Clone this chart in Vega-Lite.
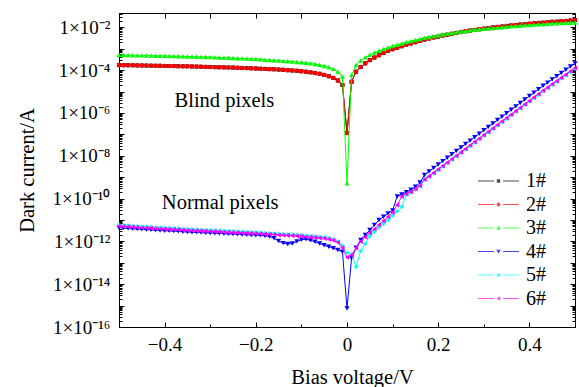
{
  "$schema": "https://vega.github.io/schema/vega-lite/v6.json",
  "width": 456,
  "height": 314,
  "autosize": "none",
  "padding": {"left": 119, "top": 13, "right": 4, "bottom": 60},
  "background": "white",
  "config": {
    "font": "Liberation Serif",
    "view": {"stroke": "black", "strokeWidth": 1},
    "axis": {"domainColor": "black", "domainWidth": 1, "tickColor": "black", "tickWidth": 1, "labelColor": "black", "titleColor": "black", "grid": false, "labelFont": "Liberation Serif", "titleFont": "Liberation Serif", "titleFontWeight": "normal", "labelFontSize": 19, "titleFontSize": 20.5},
    "legend": {"labelFont": "Liberation Serif", "labelFontSize": 20, "labelColor": "black", "symbolStrokeWidth": 0, "symbolSize": 16, "rowPadding": 3.5, "labelOffset": 17.5, "padding": 0}
  },
  "data": {"values": [
    {"x":-0.5,"1#":1.74e-4,"2#":1.74e-4,"3#":5.13e-4,"4#":4.37e-12,"5#":5.89e-12,"6#":5.25e-12},
    {"x":-0.49,"1#":1.72e-4,"2#":1.72e-4,"3#":5.08e-4,"4#":4.17e-12,"5#":5.62e-12,"6#":5.01e-12},
    {"x":-0.48,"1#":1.71e-4,"2#":1.71e-4,"3#":5.04e-4,"4#":4.07e-12,"5#":5.50e-12,"6#":4.90e-12},
    {"x":-0.47,"1#":1.69e-4,"2#":1.69e-4,"3#":4.99e-4,"4#":3.89e-12,"5#":5.25e-12,"6#":4.68e-12},
    {"x":-0.46,"1#":1.67e-4,"2#":1.67e-4,"3#":4.94e-4,"4#":3.80e-12,"5#":5.13e-12,"6#":4.57e-12},
    {"x":-0.45,"1#":1.66e-4,"2#":1.66e-4,"3#":4.90e-4,"4#":3.63e-12,"5#":4.90e-12,"6#":4.37e-12},
    {"x":-0.44,"1#":1.64e-4,"2#":1.64e-4,"3#":4.85e-4,"4#":3.55e-12,"5#":4.79e-12,"6#":4.27e-12},
    {"x":-0.43,"1#":1.63e-4,"2#":1.63e-4,"3#":4.81e-4,"4#":3.47e-12,"5#":4.68e-12,"6#":4.17e-12},
    {"x":-0.42,"1#":1.61e-4,"2#":1.61e-4,"3#":4.76e-4,"4#":3.31e-12,"5#":4.47e-12,"6#":3.98e-12},
    {"x":-0.41,"1#":1.60e-4,"2#":1.60e-4,"3#":4.72e-4,"4#":3.24e-12,"5#":4.37e-12,"6#":3.89e-12},
    {"x":-0.4,"1#":1.58e-4,"2#":1.58e-4,"3#":4.68e-4,"4#":3.16e-12,"5#":4.27e-12,"6#":3.80e-12},
    {"x":-0.39,"1#":1.57e-4,"2#":1.57e-4,"3#":4.61e-4,"4#":3.09e-12,"5#":4.17e-12,"6#":3.72e-12},
    {"x":-0.38,"1#":1.56e-4,"2#":1.56e-4,"3#":4.55e-4,"4#":3.02e-12,"5#":4.07e-12,"6#":3.63e-12},
    {"x":-0.37,"1#":1.54e-4,"2#":1.54e-4,"3#":4.49e-4,"4#":2.95e-12,"5#":3.98e-12,"6#":3.55e-12},
    {"x":-0.36,"1#":1.53e-4,"2#":1.53e-4,"3#":4.43e-4,"4#":2.82e-12,"5#":3.80e-12,"6#":3.39e-12},
    {"x":-0.35,"1#":1.51e-4,"2#":1.51e-4,"3#":4.37e-4,"4#":2.75e-12,"5#":3.72e-12,"6#":3.31e-12},
    {"x":-0.34,"1#":1.49e-4,"2#":1.49e-4,"3#":4.31e-4,"4#":2.69e-12,"5#":3.63e-12,"6#":3.24e-12},
    {"x":-0.33,"1#":1.47e-4,"2#":1.47e-4,"3#":4.25e-4,"4#":2.63e-12,"5#":3.55e-12,"6#":3.16e-12},
    {"x":-0.32,"1#":1.45e-4,"2#":1.45e-4,"3#":4.19e-4,"4#":2.57e-12,"5#":3.47e-12,"6#":3.09e-12},
    {"x":-0.31,"1#":1.43e-4,"2#":1.43e-4,"3#":4.13e-4,"4#":2.51e-12,"5#":3.39e-12,"6#":3.02e-12},
    {"x":-0.3,"1#":1.41e-4,"2#":1.41e-4,"3#":4.07e-4,"4#":2.45e-12,"5#":3.31e-12,"6#":2.95e-12},
    {"x":-0.29,"1#":1.39e-4,"2#":1.39e-4,"3#":4.00e-4,"4#":2.40e-12,"5#":3.24e-12,"6#":2.88e-12},
    {"x":-0.28,"1#":1.37e-4,"2#":1.37e-4,"3#":3.93e-4,"4#":2.34e-12,"5#":3.16e-12,"6#":2.82e-12},
    {"x":-0.27,"1#":1.36e-4,"2#":1.36e-4,"3#":3.85e-4,"4#":2.29e-12,"5#":3.09e-12,"6#":2.75e-12},
    {"x":-0.26,"1#":1.34e-4,"2#":1.34e-4,"3#":3.78e-4,"4#":2.24e-12,"5#":3.02e-12,"6#":2.69e-12},
    {"x":-0.25,"1#":1.32e-4,"2#":1.32e-4,"3#":3.72e-4,"4#":2.19e-12,"5#":2.95e-12,"6#":2.63e-12},
    {"x":-0.24,"1#":1.29e-4,"2#":1.29e-4,"3#":3.63e-4,"4#":2.14e-12,"5#":2.88e-12,"6#":2.57e-12},
    {"x":-0.23,"1#":1.27e-4,"2#":1.27e-4,"3#":3.55e-4,"4#":2.09e-12,"5#":2.82e-12,"6#":2.51e-12},
    {"x":-0.22,"1#":1.25e-4,"2#":1.25e-4,"3#":3.47e-4,"4#":2.04e-12,"5#":2.75e-12,"6#":2.45e-12},
    {"x":-0.21,"1#":1.22e-4,"2#":1.22e-4,"3#":3.39e-4,"4#":2.00e-12,"5#":2.69e-12,"6#":2.40e-12},
    {"x":-0.2,"1#":1.20e-4,"2#":1.20e-4,"3#":3.31e-4,"4#":1.95e-12,"5#":2.63e-12,"6#":2.34e-12},
    {"x":-0.19,"1#":1.17e-4,"2#":1.17e-4,"3#":3.21e-4,"4#":1.91e-12,"5#":2.57e-12,"6#":2.29e-12},
    {"x":-0.18,"1#":1.15e-4,"2#":1.15e-4,"3#":3.10e-4,"4#":1.82e-12,"5#":2.45e-12,"6#":2.19e-12},
    {"x":-0.17,"1#":1.12e-4,"2#":1.12e-4,"3#":3.01e-4,"4#":1.70e-12,"5#":2.40e-12,"6#":2.14e-12},
    {"x":-0.16,"1#":1.10e-4,"2#":1.10e-4,"3#":2.91e-4,"4#":1.41e-12,"5#":2.34e-12,"6#":2.09e-12},
    {"x":-0.15,"1#":1.07e-4,"2#":1.07e-4,"3#":2.82e-4,"4#":1.05e-12,"5#":2.24e-12,"6#":2.00e-12},
    {"x":-0.14,"1#":1.04e-4,"2#":1.04e-4,"3#":2.72e-4,"4#":8.32e-13,"5#":2.19e-12,"6#":1.95e-12},
    {"x":-0.13,"1#":1.00e-4,"2#":1.00e-4,"3#":2.62e-4,"4#":7.59e-13,"5#":2.14e-12,"6#":1.91e-12},
    {"x":-0.12,"1#":9.66e-5,"2#":9.66e-5,"3#":2.52e-4,"4#":7.94e-13,"5#":2.09e-12,"6#":1.86e-12},
    {"x":-0.11,"1#":9.33e-5,"2#":9.33e-5,"3#":2.43e-4,"4#":1.00e-12,"5#":2.00e-12,"6#":1.78e-12},
    {"x":-0.1,"1#":8.91e-5,"2#":8.91e-5,"3#":2.34e-4,"4#":1.20e-12,"5#":1.95e-12,"6#":1.74e-12},
    {"x":-0.09,"1#":8.41e-5,"2#":8.41e-5,"3#":2.21e-4,"4#":1.26e-12,"5#":1.86e-12,"6#":1.66e-12},
    {"x":-0.08,"1#":7.94e-5,"2#":7.94e-5,"3#":2.09e-4,"4#":1.12e-12,"5#":1.78e-12,"6#":1.58e-12},
    {"x":-0.07,"1#":7.33e-5,"2#":7.33e-5,"3#":1.93e-4,"4#":9.55e-13,"5#":1.70e-12,"6#":1.51e-12},
    {"x":-0.06,"1#":6.76e-5,"2#":6.76e-5,"3#":1.78e-4,"4#":7.94e-13,"5#":1.62e-12,"6#":1.45e-12},
    {"x":-0.05,"1#":6.03e-5,"2#":6.03e-5,"3#":1.58e-4,"4#":6.61e-13,"5#":1.55e-12,"6#":1.38e-12},
    {"x":-0.04,"1#":5.25e-5,"2#":5.25e-5,"3#":1.38e-4,"4#":5.62e-13,"5#":1.41e-12,"6#":1.26e-12},
    {"x":-0.03,"1#":4.37e-5,"2#":4.37e-5,"3#":1.15e-4,"4#":4.79e-13,"5#":1.26e-12,"6#":1.12e-12},
    {"x":-0.02,"1#":3.31e-5,"2#":3.31e-5,"3#":8.51e-5,"4#":3.98e-13,"5#":1.00e-12,"6#":8.91e-13},
    {"x":-0.01,"1#":2.04e-5,"2#":2.04e-5,"3#":5.01e-5,"4#":3.31e-13,"5#":6.31e-13,"6#":5.01e-13},
    {"x":0,"1#":1.15e-7,"2#":1.15e-7,"3#":5.25e-10,"4#":7.41e-16,"5#":2.95e-13,"6#":1.82e-13},
    {"x":0.01,"1#":2.88e-5,"2#":2.88e-5,"3#":6.03e-5,"4#":1.62e-13,"5#":2.51e-13,"6#":2.29e-13},
    {"x":0.02,"1#":8.51e-5,"2#":8.51e-5,"3#":1.74e-4,"4#":5.01e-13,"5#":6.61e-14,"6#":5.01e-13},
    {"x":0.03,"1#":1.41e-4,"2#":1.41e-4,"3#":2.82e-4,"4#":1.17e-12,"5#":3.55e-13,"6#":9.77e-13},
    {"x":0.04,"1#":2.09e-4,"2#":2.09e-4,"3#":3.98e-4,"4#":2.00e-12,"5#":7.94e-13,"6#":1.58e-12},
    {"x":0.05,"1#":2.95e-4,"2#":2.95e-4,"3#":5.25e-4,"4#":3.39e-12,"5#":1.78e-12,"6#":2.51e-12},
    {"x":0.06,"1#":3.89e-4,"2#":3.89e-4,"3#":6.61e-4,"4#":5.89e-12,"5#":2.82e-12,"6#":3.80e-12},
    {"x":0.07,"1#":5.01e-4,"2#":5.01e-4,"3#":8.13e-4,"4#":1.00e-11,"5#":4.47e-12,"6#":6.03e-12},
    {"x":0.08,"1#":6.31e-4,"2#":6.31e-4,"3#":9.77e-4,"4#":1.41e-11,"5#":6.61e-12,"6#":9.12e-12},
    {"x":0.09,"1#":7.94e-4,"2#":7.94e-4,"3#":1.15e-3,"4#":2.00e-11,"5#":1.00e-11,"6#":1.41e-11},
    {"x":0.1,"1#":9.55e-4,"2#":9.55e-4,"3#":1.35e-3,"4#":2.82e-11,"5#":1.58e-11,"6#":2.24e-11},
    {"x":0.11,"1#":1.12e-3,"2#":1.12e-3,"3#":1.55e-3,"4#":1.26e-10,"5#":2.51e-11,"6#":5.01e-11},
    {"x":0.12,"1#":1.32e-3,"2#":1.32e-3,"3#":1.78e-3,"4#":1.58e-10,"5#":4.17e-11,"6#":1.26e-10},
    {"x":0.13,"1#":1.55e-3,"2#":1.55e-3,"3#":2.04e-3,"4#":2.00e-10,"5#":1.48e-10,"6#":1.66e-10},
    {"x":0.14,"1#":1.78e-3,"2#":1.78e-3,"3#":2.29e-3,"4#":2.63e-10,"5#":1.91e-10,"6#":2.09e-10},
    {"x":0.15,"1#":2.04e-3,"2#":2.04e-3,"3#":2.57e-3,"4#":3.55e-10,"5#":2.63e-10,"6#":2.82e-10},
    {"x":0.16,"1#":2.34e-3,"2#":2.34e-3,"3#":2.88e-3,"4#":5.62e-10,"5#":3.80e-10,"6#":3.98e-10},
    {"x":0.17,"1#":2.69e-3,"2#":2.69e-3,"3#":3.24e-3,"4#":1.26e-9,"5#":7.59e-10,"6#":7.94e-10},
    {"x":0.18,"1#":3.02e-3,"2#":3.02e-3,"3#":3.55e-3,"4#":1.86e-9,"5#":1.05e-9,"6#":1.12e-9},
    {"x":0.19,"1#":3.39e-3,"2#":3.39e-3,"3#":3.89e-3,"4#":2.69e-9,"5#":1.51e-9,"6#":1.62e-9},
    {"x":0.2,"1#":3.72e-3,"2#":3.72e-3,"3#":4.27e-3,"4#":3.89e-9,"5#":2.19e-9,"6#":2.34e-9},
    {"x":0.21,"1#":4.17e-3,"2#":4.17e-3,"3#":4.68e-3,"4#":5.62e-9,"5#":3.16e-9,"6#":3.39e-9},
    {"x":0.22,"1#":4.57e-3,"2#":4.57e-3,"3#":5.13e-3,"4#":8.13e-9,"5#":4.57e-9,"6#":4.90e-9},
    {"x":0.23,"1#":5.01e-3,"2#":5.01e-3,"3#":5.50e-3,"4#":1.17e-8,"5#":6.61e-9,"6#":7.08e-9},
    {"x":0.24,"1#":5.50e-3,"2#":5.50e-3,"3#":5.89e-3,"4#":1.70e-8,"5#":9.55e-9,"6#":1.02e-8},
    {"x":0.25,"1#":6.03e-3,"2#":6.03e-3,"3#":6.31e-3,"4#":2.45e-8,"5#":1.38e-8,"6#":1.48e-8},
    {"x":0.26,"1#":6.61e-3,"2#":6.61e-3,"3#":6.76e-3,"4#":3.55e-8,"5#":2.00e-8,"6#":2.14e-8},
    {"x":0.27,"1#":7.08e-3,"2#":7.08e-3,"3#":7.24e-3,"4#":5.13e-8,"5#":2.88e-8,"6#":3.09e-8},
    {"x":0.28,"1#":7.59e-3,"2#":7.59e-3,"3#":7.76e-3,"4#":7.41e-8,"5#":4.17e-8,"6#":4.47e-8},
    {"x":0.29,"1#":8.13e-3,"2#":8.13e-3,"3#":8.13e-3,"4#":1.07e-7,"5#":6.03e-8,"6#":6.46e-8},
    {"x":0.3,"1#":8.71e-3,"2#":8.71e-3,"3#":8.51e-3,"4#":1.55e-7,"5#":8.71e-8,"6#":9.33e-8},
    {"x":0.31,"1#":9.33e-3,"2#":9.33e-3,"3#":8.91e-3,"4#":2.24e-7,"5#":1.26e-7,"6#":1.35e-7},
    {"x":0.32,"1#":1.00e-2,"2#":1.00e-2,"3#":9.33e-3,"4#":3.24e-7,"5#":1.82e-7,"6#":1.95e-7},
    {"x":0.33,"1#":1.05e-2,"2#":1.05e-2,"3#":9.77e-3,"4#":4.68e-7,"5#":2.63e-7,"6#":2.82e-7},
    {"x":0.34,"1#":1.10e-2,"2#":1.10e-2,"3#":1.02e-2,"4#":6.76e-7,"5#":3.80e-7,"6#":4.07e-7},
    {"x":0.35,"1#":1.17e-2,"2#":1.17e-2,"3#":1.07e-2,"4#":9.77e-7,"5#":5.50e-7,"6#":5.89e-7},
    {"x":0.36,"1#":1.23e-2,"2#":1.23e-2,"3#":1.12e-2,"4#":1.41e-6,"5#":7.94e-7,"6#":8.51e-7},
    {"x":0.37,"1#":1.29e-2,"2#":1.29e-2,"3#":1.17e-2,"4#":2.04e-6,"5#":1.15e-6,"6#":1.23e-6},
    {"x":0.38,"1#":1.35e-2,"2#":1.35e-2,"3#":1.20e-2,"4#":2.95e-6,"5#":1.66e-6,"6#":1.78e-6},
    {"x":0.39,"1#":1.41e-2,"2#":1.41e-2,"3#":1.26e-2,"4#":4.27e-6,"5#":2.40e-6,"6#":2.57e-6},
    {"x":0.4,"1#":1.48e-2,"2#":1.48e-2,"3#":1.29e-2,"4#":6.17e-6,"5#":3.47e-6,"6#":3.72e-6},
    {"x":0.41,"1#":1.55e-2,"2#":1.55e-2,"3#":1.35e-2,"4#":8.91e-6,"5#":5.01e-6,"6#":5.37e-6},
    {"x":0.42,"1#":1.62e-2,"2#":1.62e-2,"3#":1.38e-2,"4#":1.29e-5,"5#":7.24e-6,"6#":7.76e-6},
    {"x":0.43,"1#":1.66e-2,"2#":1.66e-2,"3#":1.41e-2,"4#":1.86e-5,"5#":1.05e-5,"6#":1.12e-5},
    {"x":0.44,"1#":1.74e-2,"2#":1.74e-2,"3#":1.48e-2,"4#":2.63e-5,"5#":1.48e-5,"6#":1.58e-5},
    {"x":0.45,"1#":1.82e-2,"2#":1.82e-2,"3#":1.51e-2,"4#":3.72e-5,"5#":2.09e-5,"6#":2.24e-5},
    {"x":0.46,"1#":1.86e-2,"2#":1.86e-2,"3#":1.55e-2,"4#":5.25e-5,"5#":2.95e-5,"6#":3.16e-5},
    {"x":0.47,"1#":1.95e-2,"2#":1.95e-2,"3#":1.58e-2,"4#":7.41e-5,"5#":4.17e-5,"6#":4.47e-5},
    {"x":0.48,"1#":2.00e-2,"2#":2.00e-2,"3#":1.62e-2,"4#":1.05e-4,"5#":5.89e-5,"6#":6.31e-5},
    {"x":0.49,"1#":2.09e-2,"2#":2.09e-2,"3#":1.66e-2,"4#":1.48e-4,"5#":8.32e-5,"6#":8.91e-5},
    {"x":0.5,"1#":2.19e-2,"2#":2.19e-2,"3#":1.70e-2,"4#":2.09e-4,"5#":1.17e-4,"6#":1.26e-4}
  ]},
  "transform": [{"fold": ["1#", "2#", "3#", "4#", "5#", "6#"], "as": ["series", "current"]}],
  "layer": [
    {
      "transform": [{"filter": "datum.series == '1#'"}],
      "mark": {"type": "line", "color": "#000000", "strokeWidth": 1, "point": {"shape": "square", "filled": true, "size": 16, "color": "#000000"}},
      "encoding": {
        "x": {"field": "x", "type": "quantitative", "scale": {"domain": [-0.5, 0.5], "nice": false, "zero": false},
          "axis": {"orient": "bottom", "values": [-0.4, -0.2, 0, 0.2, 0.4], "tickSize": -5, "labelPadding": 13, "labelFlush": false,
            "labelExpr": "datum.value == 0 ? '0' : replace(format(datum.value, '.1f'), '-', '−')",
            "title": "Bias voltage/V", "titleX": 233, "titleY": 56, "titleBaseline": "alphabetic", "titleAlign": "center"}},
        "y": {"field": "current", "type": "quantitative", "scale": {"type": "log", "domain": [1e-16, 0.047], "nice": false},
          "axis": {"orient": "left", "values": [1e-16, 1e-15, 1e-14, 1e-13, 1e-12, 1e-11, 1e-10, 1e-9, 1e-8, 1e-7, 1e-6, 1e-5, 1e-4, 1e-3, 1e-2], "tickSize": -5, "labelPadding": 14, "labelFlush": false,
            "labelExpr": "round(log(datum.value)/LN10) % 2 == 0 ? '1×10⁻' + ['⁰','¹','²','³','⁴','⁵','⁶','⁷','⁸','⁹','¹⁰','¹¹','¹²','¹³','¹⁴','¹⁵','¹⁶'][-round(log(datum.value)/LN10)] : ''",
            "title": "Dark current/A", "titleX": -86, "titleY": 157, "titleAngle": -90, "titleBaseline": "alphabetic", "titleAlign": "center"}}
      }
    },
    {
      "transform": [{"filter": "datum.series == '2#'"}],
      "mark": {"type": "line", "color": "#ff0000", "strokeWidth": 1, "point": {"shape": "circle", "filled": true, "size": 20, "color": "#ff0000"}},
      "encoding": {
        "x": {"field": "x", "type": "quantitative", "scale": {"domain": [-0.5, 0.5], "nice": false, "zero": false},
          "axis": {"orient": "bottom", "values": [-0.3, -0.1, 0.1, 0.3], "tickSize": -3, "labels": false, "title": null, "domain": false}},
        "y": {"field": "current", "type": "quantitative", "scale": {"type": "log", "domain": [1e-16, 0.047], "nice": false},
          "axis": {"orient": "left", "values": [2e-16,3e-16,4e-16,5e-16,6e-16,7e-16,8e-16,9e-16,2e-15,3e-15,4e-15,5e-15,6e-15,7e-15,8e-15,9e-15,2e-14,3e-14,4e-14,5e-14,6e-14,7e-14,8e-14,9e-14,2e-13,3e-13,4e-13,5e-13,6e-13,7e-13,8e-13,9e-13,2e-12,3e-12,4e-12,5e-12,6e-12,7e-12,8e-12,9e-12,2e-11,3e-11,4e-11,5e-11,6e-11,7e-11,8e-11,9e-11,2e-10,3e-10,4e-10,5e-10,6e-10,7e-10,8e-10,9e-10,2e-9,3e-9,4e-9,5e-9,6e-9,7e-9,8e-9,9e-9,2e-8,3e-8,4e-8,5e-8,6e-8,7e-8,8e-8,9e-8,2e-7,3e-7,4e-7,5e-7,6e-7,7e-7,8e-7,9e-7,2e-6,3e-6,4e-6,5e-6,6e-6,7e-6,8e-6,9e-6,2e-5,3e-5,4e-5,5e-5,6e-5,7e-5,8e-5,9e-5,2e-4,3e-4,4e-4,5e-4,6e-4,7e-4,8e-4,9e-4,2e-3,3e-3,4e-3,5e-3,6e-3,7e-3,8e-3,9e-3,2e-2,3e-2,4e-2], "tickSize": -3, "labels": false, "title": null, "domain": false}}
      }
    },
    {
      "transform": [{"filter": "datum.series == '3#'"}],
      "mark": {"type": "line", "color": "#00ff00", "strokeWidth": 1, "point": {"shape": "triangle-up", "filled": true, "size": 26, "color": "#00ff00"}},
      "encoding": {
        "x": {"field": "x", "type": "quantitative", "scale": {"domain": [-0.5, 0.5], "nice": false, "zero": false},
          "axis": {"orient": "top", "values": [-0.4, -0.3, -0.2, -0.1, 0, 0.1, 0.2, 0.3, 0.4], "tickSize": -5, "labels": false, "title": null}},
        "y": {"field": "current", "type": "quantitative", "scale": {"type": "log", "domain": [1e-16, 0.047], "nice": false},
          "axis": {"orient": "right", "values": [1e-16, 1e-15, 1e-14, 1e-13, 1e-12, 1e-11, 1e-10, 1e-9, 1e-8, 1e-7, 1e-6, 1e-5, 1e-4, 1e-3, 1e-2], "tickSize": -5, "labels": false, "title": null}}
      }
    },
    {
      "transform": [{"filter": "datum.series == '4#'"}],
      "mark": {"type": "line", "color": "#0000ff", "strokeWidth": 1, "point": {"shape": "triangle-down", "filled": true, "size": 26, "color": "#0000ff"}},
      "encoding": {
        "x": {"field": "x", "type": "quantitative", "scale": {"domain": [-0.5, 0.5], "nice": false, "zero": false}, "axis": null},
        "y": {"field": "current", "type": "quantitative", "scale": {"type": "log", "domain": [1e-16, 0.047], "nice": false},
          "axis": {"orient": "right", "values": [2e-16,3e-16,4e-16,5e-16,6e-16,7e-16,8e-16,9e-16,2e-15,3e-15,4e-15,5e-15,6e-15,7e-15,8e-15,9e-15,2e-14,3e-14,4e-14,5e-14,6e-14,7e-14,8e-14,9e-14,2e-13,3e-13,4e-13,5e-13,6e-13,7e-13,8e-13,9e-13,2e-12,3e-12,4e-12,5e-12,6e-12,7e-12,8e-12,9e-12,2e-11,3e-11,4e-11,5e-11,6e-11,7e-11,8e-11,9e-11,2e-10,3e-10,4e-10,5e-10,6e-10,7e-10,8e-10,9e-10,2e-9,3e-9,4e-9,5e-9,6e-9,7e-9,8e-9,9e-9,2e-8,3e-8,4e-8,5e-8,6e-8,7e-8,8e-8,9e-8,2e-7,3e-7,4e-7,5e-7,6e-7,7e-7,8e-7,9e-7,2e-6,3e-6,4e-6,5e-6,6e-6,7e-6,8e-6,9e-6,2e-5,3e-5,4e-5,5e-5,6e-5,7e-5,8e-5,9e-5,2e-4,3e-4,4e-4,5e-4,6e-4,7e-4,8e-4,9e-4,2e-3,3e-3,4e-3,5e-3,6e-3,7e-3,8e-3,9e-3,2e-2,3e-2,4e-2], "tickSize": -3, "labels": false, "title": null, "domain": false}}
      }
    },
    {
      "transform": [{"filter": "datum.series == '5#'"}],
      "mark": {"type": "line", "color": "#00ffff", "strokeWidth": 1, "point": {"shape": "diamond", "filled": true, "size": 22, "color": "#00ffff"}},
      "encoding": {
        "x": {"field": "x", "type": "quantitative", "scale": {"domain": [-0.5, 0.5], "nice": false, "zero": false}, "axis": null},
        "y": {"field": "current", "type": "quantitative", "scale": {"type": "log", "domain": [1e-16, 0.047], "nice": false}, "axis": null}
      }
    },
    {
      "transform": [{"filter": "datum.series == '6#'"}],
      "mark": {"type": "line", "color": "#ff00ff", "strokeWidth": 1, "point": {"shape": "triangle-left", "filled": true, "size": 26, "color": "#ff00ff"}},
      "encoding": {
        "x": {"field": "x", "type": "quantitative", "scale": {"domain": [-0.5, 0.5], "nice": false, "zero": false}, "axis": null},
        "y": {"field": "current", "type": "quantitative", "scale": {"type": "log", "domain": [1e-16, 0.047], "nice": false}, "axis": null}
      }
    },
    {
      "transform": [{"filter": "datum.x > 5"}],
      "mark": {"type": "point", "filled": true},
      "encoding": {
        "x": {"field": "x", "type": "quantitative", "scale": {"domain": [-0.5, 0.5], "nice": false, "zero": false}, "axis": null},
        "y": {"field": "current", "type": "quantitative", "scale": {"type": "log", "domain": [1e-16, 0.047], "nice": false}, "axis": null},
        "color": {"field": "series", "type": "nominal", "scale": {"domain": ["1#", "2#", "3#", "4#", "5#", "6#"], "range": ["#000000", "#ff0000", "#00ff00", "#0000ff", "#00ffff", "#ff00ff"]},
          "legend": {"title": null, "orient": "none", "legendX": 369.5, "legendY": 158}},
        "shape": {"field": "series", "type": "nominal", "scale": {"domain": ["1#", "2#", "3#", "4#", "5#", "6#"], "range": [
          "M-10.25,-0.25H-2.25V0.25H-10.25ZM2.25,-0.25H10.25V0.25H2.25ZM-0.85,-0.85H0.85V0.85H-0.85Z",
          "M-10.25,-0.25H-2.25V0.25H-10.25ZM2.25,-0.25H10.25V0.25H2.25ZM0.95,0A0.95,0.95,0,1,1,-0.95,0A0.95,0.95,0,1,1,0.95,0Z",
          "M-10.25,-0.25H-2.25V0.25H-10.25ZM2.25,-0.25H10.25V0.25H2.25ZM0,-1.15L1.15,0.85H-1.15Z",
          "M-10.25,-0.25H-2.25V0.25H-10.25ZM2.25,-0.25H10.25V0.25H2.25ZM0,1.15L1.15,-0.85H-1.15Z",
          "M-10.25,-0.25H-2.25V0.25H-10.25ZM2.25,-0.25H10.25V0.25H2.25ZM0,-1.15L1.15,0L0,1.15L-1.15,0Z",
          "M-10.25,-0.25H-2.25V0.25H-10.25ZM2.25,-0.25H10.25V0.25H2.25ZM-1.15,0L0.85,-1.15V1.15Z"]},
          "legend": {"title": null, "orient": "none", "legendX": 369.5, "legendY": 158}}
      }
    },
    {
      "data": {"values": [
        {"x": -0.269, "y": 3.6e-6, "label": "Blind pixels"},
        {"x": -0.278, "y": 5.9e-11, "label": "Normal pixels"}
      ]},
      "mark": {"type": "text", "font": "Liberation Serif", "fontSize": 20.5, "align": "center", "baseline": "middle", "color": "black"},
      "encoding": {
        "x": {"field": "x", "type": "quantitative", "scale": {"domain": [-0.5, 0.5], "nice": false, "zero": false}, "axis": null},
        "y": {"field": "y", "type": "quantitative", "scale": {"type": "log", "domain": [1e-16, 0.047], "nice": false}, "axis": null},
        "text": {"field": "label", "type": "nominal"}
      }
    }
  ],
  "resolve": {"axis": {"x": "independent", "y": "independent"}}
}
